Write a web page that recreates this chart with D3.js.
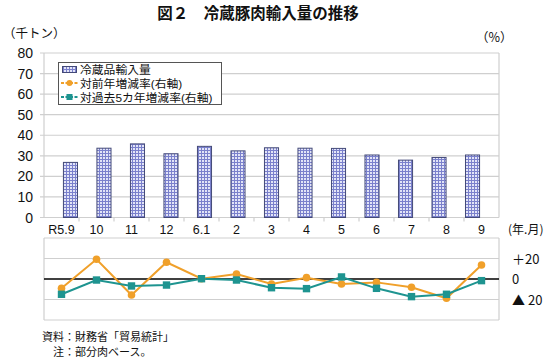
<!DOCTYPE html>
<html><head><meta charset="utf-8">
<script src="https://cdn.jsdelivr.net/npm/d3@7"></script>
<style>
html,body{margin:0;padding:0;background:#fff;}
svg{display:block;font-family:"Liberation Sans","Noto Sans CJK JP",sans-serif;}
.jp{font-family:"Noto Sans CJK JP",sans-serif;}
</style></head>
<body>
<svg id="c" width="550" height="361"></svg>
<script>
const categories = ["R5.9","10","11","12","6.1","2","3","4","5","6","7","8","9"];
const importVolume = [26.8,33.7,35.8,31.0,34.6,32.4,33.9,33.7,33.6,30.4,27.9,29.2,30.4];
const yoyRate = [-9.1,19.2,-15.6,16.3,0.3,4.9,-4.9,1.3,-4.9,-3.3,-8.1,-18.8,13.7];
const fiveYearRate = [-14.9,-1.0,-6.8,-5.9,0.3,-1.0,-8.5,-9.4,2.0,-9.1,-17.2,-14.9,-1.6];
const leftTicks = [0,10,20,30,40,50,60,70,80];
const rightTicks = [{v:20,t:"＋20"},{v:0,t:"0"},{v:-20,t:"▲ 20"}];
const seriesNames = ["冷蔵品輸入量","対前年増減率(右軸)","対過去5カ年増減率(右軸)"];

const svg = d3.select("#c");
const L = 44, R = 499;
const gridCol = "#cfcfcf";
const orange = "#F0A02A", teal = "#1E9490";

// pattern
const defs = svg.append("defs");
const pat = defs.append("pattern").attr("id","grid").attr("patternUnits","userSpaceOnUse")
  .attr("width",3).attr("height",3);
pat.append("rect").attr("width",3).attr("height",3).attr("fill","#e2e4f7");
pat.append("rect").attr("x",0).attr("y",0).attr("width",1).attr("height",3).attr("fill","#7a80cc");
pat.append("rect").attr("x",0).attr("y",0).attr("width",3).attr("height",1).attr("fill","#7a80cc");

const x = d3.scaleBand().domain(categories).range([L,R]).padding(0.58);
const xb = d3.scaleBand().domain(categories).range([L,R]).padding(0);
const y = d3.scaleLinear().domain([0,80]).range([217.5,53]);
const y2 = d3.scaleLinear().domain([-40,40]).range([320,238]);

// title
svg.append("text").attr("class","jp").attr("x",258).attr("y",19).attr("text-anchor","middle")
  .attr("font-size",15.5).attr("font-weight","bold").attr("fill","#111").text("図２　冷蔵豚肉輸入量の推移");
svg.append("text").attr("class","jp").attr("x",3).attr("y",38).attr("font-size",12.5).attr("fill","#111").text("（千トン）");
svg.append("text").attr("class","jp").attr("x",476).attr("y",42).attr("font-size",12.5).attr("fill","#111").text("（%）");

// upper gridlines
const gU = svg.append("g");
gU.selectAll("line.g").data(leftTicks).join("line")
  .attr("x1",L-4).attr("x2",R).attr("y1",d=>y(d)).attr("y2",d=>y(d))
  .attr("stroke",gridCol).attr("stroke-width",1.2);
gU.append("line").attr("x1",L).attr("x2",L).attr("y1",y(80)).attr("y2",y(0)).attr("stroke",gridCol).attr("stroke-width",1.2);
gU.append("line").attr("x1",R).attr("x2",R).attr("y1",y(80)).attr("y2",y(0)).attr("stroke",gridCol).attr("stroke-width",1.2);
gU.selectAll("line.t").data(categories.slice(1)).join("line")
  .attr("x1",d=>xb(d)).attr("x2",d=>xb(d)).attr("y1",y(0)).attr("y2",y(0)+4)
  .attr("stroke",gridCol).attr("stroke-width",1.2);
gU.selectAll("text.yl").data(leftTicks).join("text")
  .attr("x",33).attr("y",d=>y(d)+5).attr("text-anchor","end").attr("font-size",14).attr("fill","#111").text(d=>d);

// bars
svg.append("g").selectAll("rect").data(categories).join("rect")
  .attr("x",d=>x(d)).attr("width",x.bandwidth())
  .attr("y",(d,i)=>y(importVolume[i])).attr("height",(d,i)=>y(0)-y(importVolume[i]))
  .attr("fill","url(#grid)").attr("stroke","#444a78").attr("stroke-width",1);

// category labels
svg.append("g").selectAll("text").data(categories).join("text")
  .attr("x",d=>xb(d)+xb.bandwidth()/2).attr("y",234).attr("text-anchor","middle")
  .attr("font-size",12.5).attr("fill","#111").text(d=>d);
svg.append("text").attr("class","jp").attr("x",508).attr("y",234).attr("font-size",12).attr("fill","#111").text("(年.月)");

// lower panel
const gL = svg.append("g");
gL.selectAll("line").data([40,20,-20,-40]).join("line")
  .attr("x1",L).attr("x2",R).attr("y1",d=>y2(d)).attr("y2",d=>y2(d))
  .attr("stroke",gridCol).attr("stroke-width",1.2);
gL.append("line").attr("x1",L).attr("x2",L).attr("y1",y2(40)).attr("y2",y2(-40)).attr("stroke",gridCol).attr("stroke-width",1.2);
gL.append("line").attr("x1",R).attr("x2",R).attr("y1",y2(40)).attr("y2",y2(-40)).attr("stroke",gridCol).attr("stroke-width",1.2);
gL.append("line").attr("x1",L).attr("x2",R).attr("y1",y2(0)).attr("y2",y2(0)).attr("stroke","#000").attr("stroke-width",1.6);
svg.append("g").selectAll("text").data(rightTicks).join("text").attr("class","jp")
  .attr("x",512).attr("y",d=>y2(d.v)+5).attr("font-size",13).attr("fill","#111").text(d=>d.t);

const cx = d=>xb(d)+xb.bandwidth()/2;
const line = d3.line().x(d=>cx(d.c)).y(d=>y2(d.v));
const yoy = categories.map((c,i)=>({c,v:yoyRate[i]}));
const fy = categories.map((c,i)=>({c,v:fiveYearRate[i]}));
svg.append("path").datum(yoy).attr("d",line).attr("fill","none").attr("stroke",orange).attr("stroke-width",2);
svg.append("path").datum(fy).attr("d",line).attr("fill","none").attr("stroke",teal).attr("stroke-width",2);
svg.append("g").selectAll("circle").data(yoy).join("circle")
  .attr("cx",d=>cx(d.c)).attr("cy",d=>y2(d.v)).attr("r",3.8).attr("fill",orange);
svg.append("g").selectAll("rect").data(fy).join("rect")
  .attr("x",d=>cx(d.c)-3.7).attr("y",d=>y2(d.v)-3.7).attr("width",7.4).attr("height",7.4).attr("fill",teal);

// legend
const lg = svg.append("g");
lg.append("rect").attr("x",58.5).attr("y",62.5).attr("width",163).attr("height",42)
  .attr("fill","#fff").attr("stroke","#555").attr("stroke-width",1);
lg.append("rect").attr("x",62.5).attr("y",66.5).attr("width",14).attr("height",6)
  .attr("fill","url(#grid)").attr("stroke","#444a78").attr("stroke-width",1);
lg.append("line").attr("x1",61).attr("x2",78).attr("y1",83).attr("y2",83).attr("stroke",orange).attr("stroke-width",1.8).attr("stroke-dasharray","3,1.5");
lg.append("circle").attr("cx",69.5).attr("cy",83).attr("r",3).attr("fill",orange);
lg.append("line").attr("x1",61).attr("x2",78).attr("y1",97).attr("y2",97).attr("stroke",teal).attr("stroke-width",1.8).attr("stroke-dasharray","3,1.5");
lg.append("rect").attr("x",66.5).attr("y",94).attr("width",6).attr("height",6).attr("fill",teal);
lg.selectAll("text").data(seriesNames).join("text")
  .attr("x",80).attr("y",(d,i)=>73.5+i*14).attr("font-size",11.8).attr("fill","#111").text(d=>d);

// footer
svg.append("text").attr("class","jp").attr("x",42).attr("y",341).attr("font-size",11).attr("fill","#111").text("資料：財務省「貿易統計」");
svg.append("text").attr("class","jp").attr("x",53).attr("y",356).attr("font-size",11).attr("fill","#111").text("注：部分肉ベース。");
</script>
</body></html>
